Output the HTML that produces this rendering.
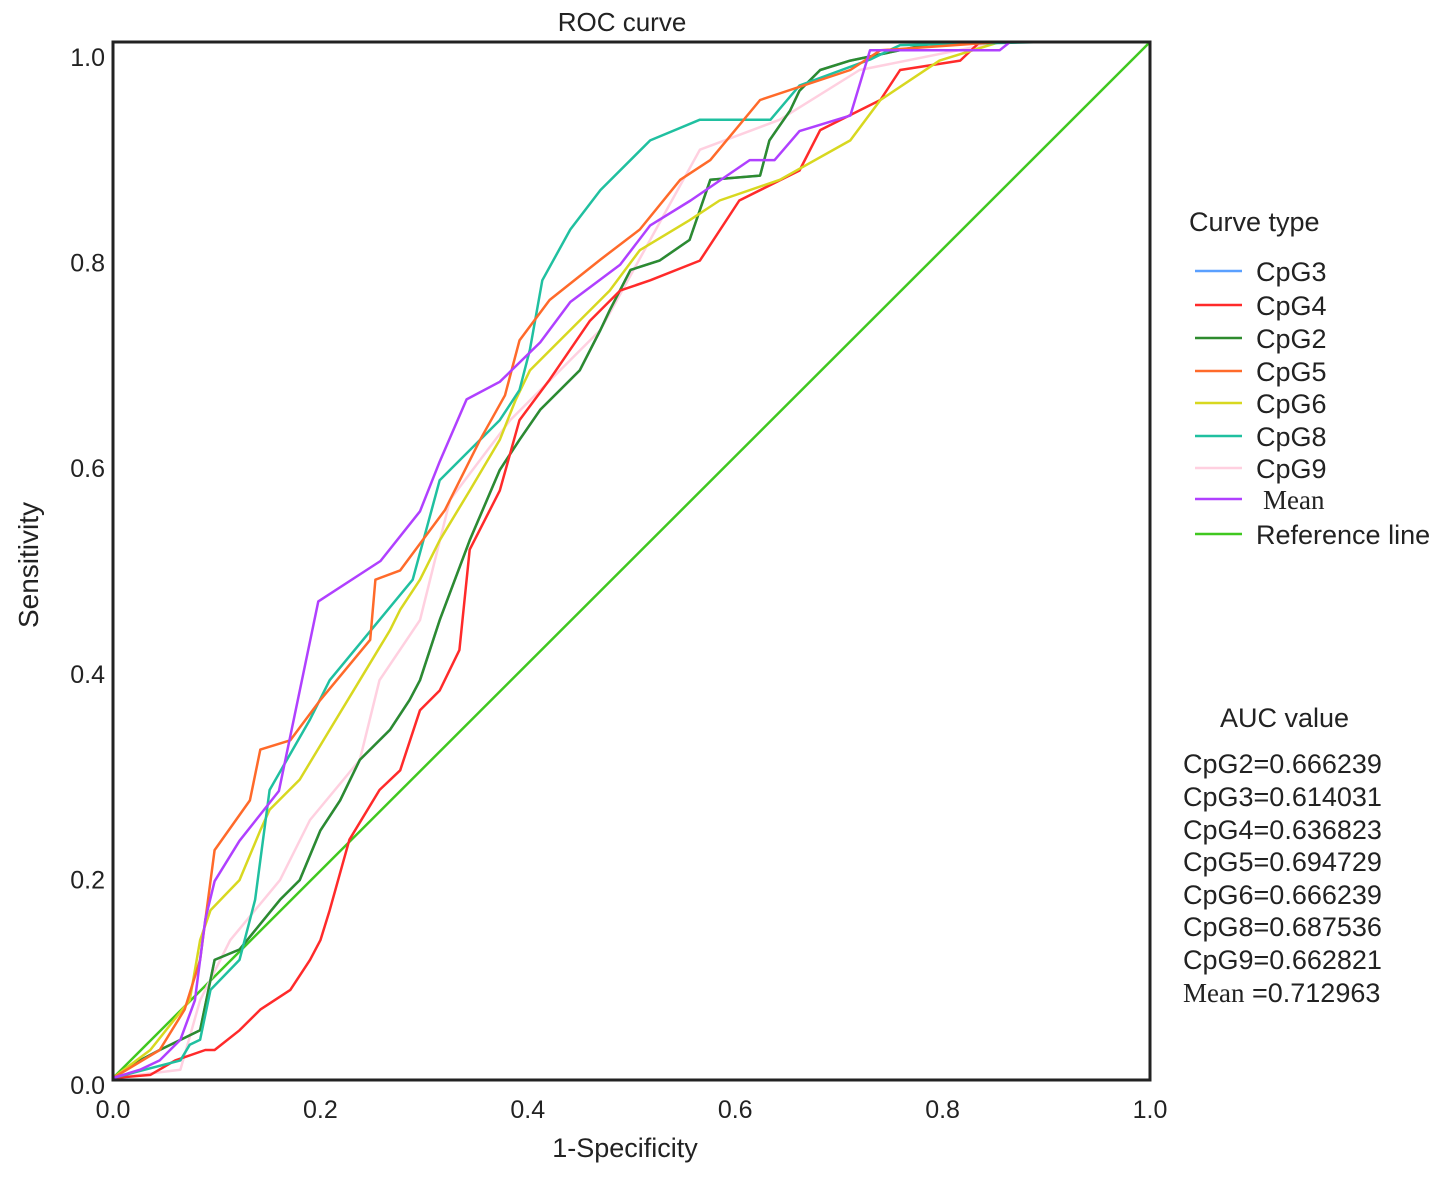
<!DOCTYPE html>
<html><head><meta charset="utf-8"><style>
body{margin:0;background:#fff}
svg text{font-family:"Liberation Sans",sans-serif;fill:#222}
</style></head><body>
<svg id="chart" width="1441" height="1175" xmlns="http://www.w3.org/2000/svg">
<text x="622" y="31" font-size="26" text-anchor="middle">ROC curve</text>
<g id="plot"></g>
<rect x="113" y="42" width="1037" height="1038" fill="none" stroke="#222" stroke-width="3"/>
<text x="625" y="1157" font-size="27" text-anchor="middle">1-Specificity</text>
<text transform="translate(38,565) rotate(-90)" font-size="28" text-anchor="middle">Sensitivity</text>
<g id="legend">
<text x="1189" y="231" font-size="27">Curve type</text>
</g>
<g font-size="27">
<text x="1220" y="727" font-size="27">AUC value</text>
<text x="1183" y="773">CpG2=0.666239</text>
<text x="1183" y="806">CpG3=0.614031</text>
<text x="1183" y="839">CpG4=0.636823</text>
<text x="1183" y="871">CpG5=0.694729</text>
<text x="1183" y="904">CpG6=0.666239</text>
<text x="1183" y="936">CpG8=0.687536</text>
<text x="1183" y="969">CpG9=0.662821</text>
<text x="1183" y="1002"><tspan style="font-family:'Liberation Serif',serif">Mean</tspan> =0.712963</text>
</g>
</svg>
<script>
const xTicks=[0,0.2,0.4,0.6,0.8,1.0];
const yTicks=[0,0.2,0.4,0.6,0.8,1.0];
const seriesNames=["CpG3","CpG4","CpG2","CpG5","CpG6","CpG8","CpG9","Mean","Reference line"];
const seriesColors=["#5aa0ff","#ff2a2a","#2e8b2e","#ff6a2a","#d8d820","#20c0a0","#ffd0e0","#b040ff","#40c820"];
const cpg3X=[0,.026,.045,.084,.098,.122,.161,.18,.2,.219,.238,.267,.286,.296,.315,.344,.373,.392,.412,.431,.45,.47,.479,.499,.527,.556,.576,.624,.633,.653,.662,.682,.711,.797,.899];
const cpg3Y=[0,.017,.027,.046,.114,.124,.172,.191,.239,.268,.307,.336,.365,.384,.442,.519,.587,.616,.645,.664,.683,.722,.741,.78,.789,.809,.867,.871,.905,.934,.953,.973,.982,1,1];
const cpg4X=[0,.036,.06,.089,.098,.122,.142,.171,.19,.2,.209,.228,.257,.277,.296,.315,.334,.344,.373,.392,.421,.46,.489,.518,.566,.604,.662,.682,.74,.759,.817,.836,.894];
const cpg4Y=[0,.003,.017,.027,.027,.046,.066,.085,.114,.133,.162,.23,.278,.297,.355,.374,.413,.51,.567,.635,.674,.731,.76,.77,.789,.847,.876,.915,.944,.973,.982,1,1];
const cpg2X=[0,.026,.045,.084,.098,.122,.161,.18,.2,.219,.238,.267,.286,.296,.315,.344,.373,.392,.412,.431,.45,.47,.479,.499,.527,.556,.576,.624,.633,.653,.662,.682,.711,.797,.899];
const cpg2Y=[0,.017,.027,.046,.114,.124,.172,.191,.239,.268,.307,.336,.365,.384,.442,.519,.587,.616,.645,.664,.683,.722,.741,.78,.789,.809,.867,.871,.905,.934,.953,.973,.982,1,1];
const cpg5X=[0,.045,.069,.084,.098,.132,.142,.171,.2,.248,.253,.277,.32,.354,.378,.392,.421,.47,.508,.547,.576,.624,.711,.74,.855];
const cpg5Y=[0,.027,.066,.114,.22,.268,.317,.326,.365,.423,.481,.49,.548,.616,.659,.712,.751,.79,.819,.867,.886,.944,.973,.992,1];
const cpg6X=[0,.036,.074,.084,.094,.122,.142,.151,.18,.209,.238,.267,.277,.296,.315,.344,.373,.388,.402,.431,.479,.508,.556,.585,.643,.711,.74,.797,.855];
const cpg6Y=[0,.027,.075,.133,.162,.191,.239,.259,.288,.336,.384,.432,.452,.481,.519,.567,.616,.654,.683,.712,.76,.799,.828,.847,.867,.905,.944,.982,1];
const cpg8X=[0,.065,.074,.084,.094,.122,.137,.151,.19,.209,.289,.315,.373,.392,.402,.414,.441,.47,.518,.566,.634,.662,.73,.759,.899];
const cpg8Y=[0,.017,.032,.037,.085,.114,.172,.278,.346,.384,.481,.577,.635,.664,.703,.77,.819,.857,.905,.925,.925,.958,.983,.997,1];
const cpg9X=[0,.065,.084,.113,.161,.19,.238,.257,.296,.325,.383,.47,.566,.643,.72,.855];
const cpg9Y=[0,.008,.075,.133,.191,.249,.307,.384,.442,.558,.635,.722,.896,.925,.973,1];
const meanX=[0,.026,.045,.065,.079,.089,.098,.122,.16,.198,.258,.296,.315,.341,.373,.412,.441,.489,.518,.557,.614,.638,.662,.711,.73,.855,.865,1];
const meanY=[0,.008,.017,.037,.075,.153,.19,.229,.277,.46,.499,.547,.595,.655,.672,.71,.749,.785,.823,.847,.886,.886,.914,.929,.992,.992,1,1];
const refX=[0,1];
const refY=[0,1];

const X0=113,X1=1150,Y0=1078,Y1=42;
const sx=v=>X0+v*(X1-X0);
const sy=v=>Y0-v*(Y0-Y1);
const labY=v=>1085-v*1028;
const NS="http://www.w3.org/2000/svg";
const svg=document.getElementById('chart');
const plot=document.getElementById('plot');
const legend=document.getElementById('legend');

xTicks.forEach(t=>{
  const el=document.createElementNS(NS,'text');
  
  
  el.setAttribute('x',sx(t));el.setAttribute('y',1118);
  el.setAttribute('font-size','25');el.setAttribute('text-anchor','middle');
  el.textContent=t.toFixed(1);svg.appendChild(el);
});
yTicks.forEach(t=>{
  const el=document.createElementNS(NS,'text');
  
  
  el.setAttribute('x',105);el.setAttribute('y',labY(t)+9);
  el.setAttribute('font-size','25');el.setAttribute('text-anchor','end');
  el.textContent=t.toFixed(1);svg.appendChild(el);
});

const allX=[cpg3X,cpg4X,cpg2X,cpg5X,cpg6X,cpg8X,cpg9X,meanX,refX];
const allY=[cpg3Y,cpg4Y,cpg2Y,cpg5Y,cpg6Y,cpg8Y,cpg9Y,meanY,refY];
const drawOrder=[8,6,0,2,1,4,5,3,7];
drawOrder.forEach(i=>{
  const pts=allX[i].map((v,k)=>sx(v).toFixed(1)+','+sy(allY[i][k]).toFixed(1)).join(' ');
  const el=document.createElementNS(NS,'polyline');
  
  
  el.setAttribute('points',pts);el.setAttribute('fill','none');
  el.setAttribute('stroke',seriesColors[i]);el.setAttribute('stroke-width','2.5');
  el.setAttribute('stroke-linejoin','round');
  plot.appendChild(el);
});
const legY=[271,305,338,371,403,436,468,499,534];
seriesNames.forEach((n,i)=>{
  const g=document.createElementNS(NS,'g');
  
  
  const ln=document.createElementNS(NS,'line');
  
  
  ln.setAttribute('x1',1195);ln.setAttribute('x2',1242);
  ln.setAttribute('y1',legY[i]);ln.setAttribute('y2',legY[i]);
  ln.setAttribute('stroke',seriesColors[i]);ln.setAttribute('stroke-width','2.5');
  const tx=document.createElementNS(NS,'text');
  
  
  tx.setAttribute('x',n==='Mean'?1263:1256);tx.setAttribute('y',legY[i]+10);
  tx.setAttribute('font-size','27');
  if(n==='Mean')tx.setAttribute('style','font-family:"Liberation Serif",serif');
  tx.textContent=n;
  g.appendChild(ln);g.appendChild(tx);legend.appendChild(g);
});
</script>
</body></html>
